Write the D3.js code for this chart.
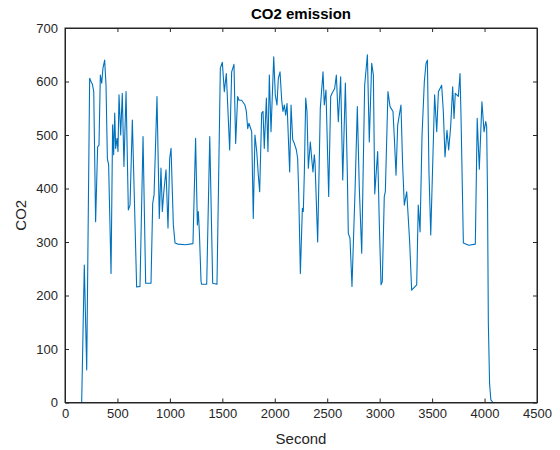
<!DOCTYPE html>
<html>
<head>
<meta charset="utf-8">
<script src="https://cdn.jsdelivr.net/npm/d3@7"></script>
<style>
  body { margin: 0; background: #fff; }
  svg { font-family: "Liberation Sans", Arial, sans-serif; }
  .axis path, .axis line { stroke: #262626; }
  .axis text { fill: #262626; font-size: 13px; }
</style>
</head>
<body>
<svg id="chart" width="560" height="450"></svg>
<script>
// time in seconds and CO2 reading
var seconds = [159, 184, 207, 235, 248, 261, 274, 292, 311, 324, 337, 350, 362, 378, 391, 404, 416, 439, 454, 464,
  474, 483, 496, 505, 515, 531, 546, 562, 582, 604, 620, 642, 683, 715, 744, 769, 820, 836, 849, 877,
  899, 915, 928, 941, 963, 982, 998, 1011, 1033, 1049, 1078, 1150, 1220, 1245, 1262, 1271, 1281, 1297, 1303, 1351,
  1380, 1408, 1449, 1481, 1500, 1519, 1538, 1570, 1589, 1611, 1627, 1646, 1659, 1684, 1716, 1729, 1742, 1754, 1780, 1795,
  1811, 1828, 1843, 1856, 1875, 1888, 1900, 1920, 1935, 1948, 1964, 1990, 2005, 2021, 2034, 2050, 2066, 2078, 2091, 2104,
  2117, 2142, 2155, 2171, 2187, 2206, 2218, 2228, 2244, 2263, 2272, 2282, 2295, 2307, 2320, 2339, 2352, 2364, 2377, 2384,
  2409, 2434, 2460, 2472, 2488, 2514, 2533, 2546, 2571, 2587, 2606, 2628, 2648, 2673, 2692, 2701, 2717, 2736, 2765, 2787,
  2806, 2829, 2857, 2883, 2901, 2924, 2940, 2953, 2981, 2997, 3013, 3025, 3044, 3054, 3079, 3099, 3127, 3140, 3156, 3172,
  3203, 3219, 3235, 3258, 3273, 3286, 3305, 3353, 3368, 3385, 3404, 3426, 3442, 3455, 3470, 3487, 3524, 3544, 3560, 3591,
  3607, 3623, 3642, 3658, 3677, 3696, 3709, 3721, 3750, 3766, 3776, 3798, 3850, 3912, 3930, 3950, 3975, 3995, 4011, 4020,
  4028, 4036, 4048, 4060, 4080];
var co2 = [0, 257, 61, 606, 600, 595, 581, 338, 478, 481, 612, 597, 625, 640, 593, 456, 444, 241, 519, 463,
  541, 475, 494, 469, 575, 500, 578, 441, 581, 360, 369, 528, 216, 217, 497, 223, 223, 372, 388, 572,
  344, 438, 357, 391, 435, 326, 456, 475, 332, 298, 296, 295, 297, 494, 332, 357, 319, 226, 221, 221,
  497, 223, 221, 625, 636, 581, 615, 472, 618, 632, 484, 572, 565, 565, 556, 544, 512, 522, 506, 344,
  500, 469, 425, 394, 541, 544, 475, 569, 469, 612, 506, 646, 575, 556, 606, 618, 565, 544, 556, 537,
  559, 431, 556, 491, 484, 472, 456, 394, 241, 363, 357, 431, 569, 544, 438, 487, 456, 431, 463, 447,
  300, 550, 618, 556, 584, 385, 572, 578, 587, 612, 525, 609, 416, 597, 425, 316, 307, 217, 394, 553,
  400, 279, 593, 650, 487, 634, 612, 390, 469, 332, 220, 226, 385, 394, 581, 553, 544, 494, 425, 519,
  556, 444, 369, 394, 344, 300, 210, 220, 369, 319, 500, 600, 634, 640, 431, 313, 575, 506, 581, 593,
  544, 459, 509, 472, 516, 590, 531, 578, 572, 615, 531, 298, 294, 296, 531, 436, 562, 506, 525, 516,
  394, 150, 35, 5, 0];

var xTicks = [0, 500, 1000, 1500, 2000, 2500, 3000, 3500, 4000, 4500];
var yTicks = [0, 100, 200, 300, 400, 500, 600, 700];

var svg = d3.select('#chart');

// plot box (MATLAB style axes)
var boxLeft = 65, boxRight = 537, boxTop = 28, boxBottom = 402.5;

var x = d3.scaleLinear().domain([0, 4500]).range([boxLeft, boxRight]);
var y = d3.scaleLinear().domain([0, 700]).range([boxBottom, boxTop]);

var data = seconds.map(function(s, i) { return [s, co2[i]]; });

// the line
var line = d3.line()
  .x(function(d) { return x(d[0]); })
  .y(function(d) { return y(d[1]); });

svg.append('path')
  .datum(data)
  .attr('d', line)
  .attr('fill', 'none')
  .attr('stroke', '#0072BD')
  .attr('stroke-width', 1.1)
  .attr('stroke-linejoin', 'round');

var fmt = d3.format('d');

// axes, ticks pointing inward
svg.append('g')
  .attr('class', 'axis')
  .attr('transform', 'translate(0,' + boxBottom + ')')
  .call(d3.axisBottom(x).tickValues(xTicks).tickSizeInner(-4).tickSizeOuter(0).tickPadding(6).tickFormat(fmt));

svg.append('g')
  .attr('class', 'axis')
  .attr('transform', 'translate(0,' + boxTop + ')')
  .call(d3.axisTop(x).tickValues(xTicks).tickSizeInner(-4).tickSizeOuter(0).tickFormat(''));

svg.append('g')
  .attr('class', 'axis')
  .attr('transform', 'translate(' + boxLeft + ',0)')
  .call(d3.axisLeft(y).tickValues(yTicks).tickSizeInner(-4).tickSizeOuter(0).tickPadding(7).tickFormat(fmt));

svg.append('g')
  .attr('class', 'axis')
  .attr('transform', 'translate(' + boxRight + ',0)')
  .call(d3.axisRight(y).tickValues(yTicks).tickSizeInner(-4).tickSizeOuter(0).tickFormat(''));

// box outline
svg.append('rect')
  .attr('x', boxLeft).attr('y', boxTop)
  .attr('width', boxRight - boxLeft).attr('height', boxBottom - boxTop)
  .attr('fill', 'none')
  .attr('stroke', '#262626')
  .attr('stroke-width', 1);

// title and labels
svg.append('text')
  .attr('x', (boxLeft + boxRight) / 2).attr('y', 19)
  .attr('text-anchor', 'middle')
  .attr('font-size', 15).attr('font-weight', 'bold')
  .attr('fill', '#000')
  .text('CO2 emission');

svg.append('text')
  .attr('x', (boxLeft + boxRight) / 2).attr('y', 444)
  .attr('text-anchor', 'middle')
  .attr('font-size', 15)
  .attr('fill', '#262626')
  .text('Second');

svg.append('text')
  .attr('transform', 'translate(26,' + ((boxTop + boxBottom) / 2) + ') rotate(-90)')
  .attr('text-anchor', 'middle')
  .attr('font-size', 15)
  .attr('fill', '#262626')
  .text('CO2');
</script>
</body>
</html>
